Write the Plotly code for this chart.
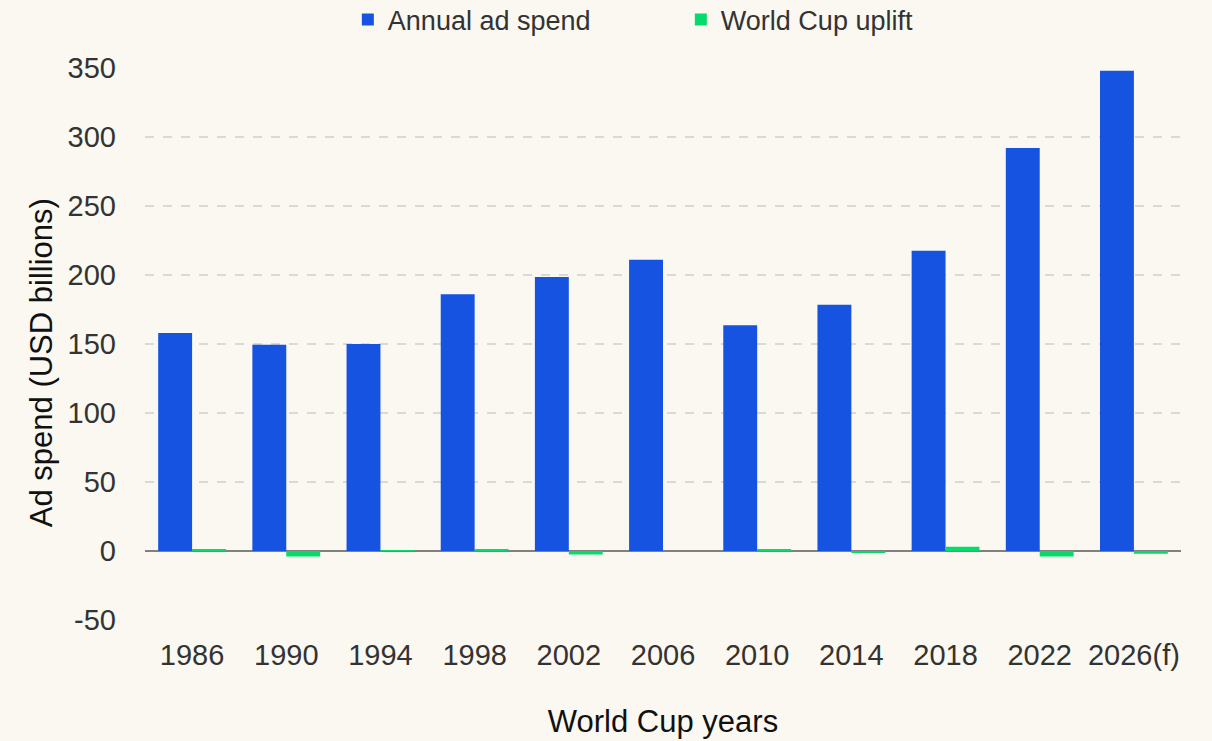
import plotly.graph_objects as go

years = ["1986", "1990", "1994", "1998", "2002", "2006", "2010", "2014", "2018", "2022", "2026(f)"]
ad_spend = [158, 149.5, 150, 186, 198.5, 211, 163.5, 178.5, 217.5, 292, 348]
uplift = [0.8, -4, 0.3, 0.8, -2.5, 0, 1, -1, 3, -4, -2]
y_ticks = [-50, 0, 50, 100, 150, 200, 250, 300, 350]
y_tick_text = ["-50", "0", "50", "100", "150", "200", "250", "300", "350"]

BG = "#FAF8F0"
FONT = "Liberation Sans, Arial, sans-serif"

fig = go.Figure()
fig.add_trace(go.Bar(x=years, y=ad_spend, name="Annual ad spend", marker_color="#1553E0",
                     marker_line_width=0))
fig.add_trace(go.Bar(x=years, y=uplift, name="World Cup uplift", marker_color="#05DB6B",
                     marker_line_width=0))

fig.update_layout(
    barmode="group",
    bargap=0.28,
    bargroupgap=0,
    paper_bgcolor=BG,
    plot_bgcolor=BG,
    width=1212,
    height=741,
    margin=dict(l=145, r=31, t=68, b=121, autoexpand=False),
    font=dict(family=FONT, size=29, color="#333333"),
    legend=dict(orientation="h", xref="container", yref="container",
                x=0.287, xanchor="left", y=0.973, yanchor="middle",
                font=dict(size=27, color="#333333"), itemwidth=30, traceorder="normal",
                entrywidth=288, bgcolor="rgba(0,0,0,0)"),
    showlegend=True,
    annotations=[dict(text="Ad spend (USD billions)", textangle=-90, xref="paper", yref="paper",
                      x=-0.1004, y=0.467, xanchor="center", yanchor="middle", showarrow=False,
                      font=dict(size=31, color="#111111"))],
)
fig.update_xaxes(
    title=dict(text="World Cup years", font=dict(size=31, color="#111111"), standoff=40),
    tickfont=dict(size=29, color="#333333"),
    showgrid=False,
    showline=False,
    ticks="",
    ticklabelstandoff=15,
)
fig.update_yaxes(
    range=[-50, 350],
    tickvals=y_ticks,
    ticktext=y_tick_text,
    tickfont=dict(size=29, color="#333333"),
    showgrid=True,
    gridcolor="#D9D9D9",
    griddash="dash",
    gridwidth=1.5,
    zeroline=True,
    zerolinecolor="#808080",
    zerolinewidth=1.5,
    ticklabelstandoff=28,
    ticks="",
)

fig.write_html("out.html", config={"displayModeBar": False},
               post_script="document.body.style.margin='0';document.body.style.overflow='hidden';")
